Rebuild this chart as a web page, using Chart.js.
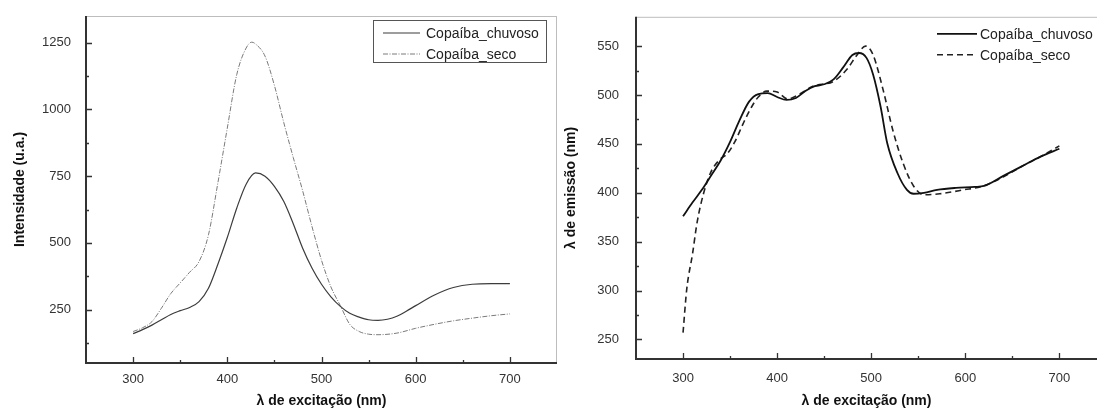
<!DOCTYPE html>
<html>
<head>
<meta charset="utf-8">
<script src="https://cdn.jsdelivr.net/npm/chart.js@4.4.0/dist/chart.umd.min.js"></script>
<style>
  html, body { margin:0; padding:0; background:#fff; width:1097px; height:414px; overflow:hidden; }
  #chartExc { position:absolute; left:0; top:0; }
  #chartEm  { position:absolute; left:560px; top:0; }
</style>
</head>
<body>
<canvas id="chartExc" width="560" height="414"></canvas>
<canvas id="chartEm" width="537" height="414"></canvas>
<script>
// ---- data: left panel (intensity vs excitation wavelength) ----
const excChuvosoX = [300,310,320,330,340,350,360,370,380,390,400,410,420,430,440,450,460,470,480,490,500,510,520,530,540,550,560,570,580,590,600,620,640,660,680,700];
const excChuvosoY = [160,175,192,212,232,246,258,280,330,420,520,630,720,762,750,712,655,572,480,405,345,298,262,236,222,212,210,214,225,244,265,305,333,345,347,347];
const excSecoX = [300,310,320,330,340,350,360,370,380,390,400,410,420,426,430,440,450,460,470,480,490,500,510,520,530,540,550,560,580,600,620,640,660,680,700];
const excSecoY = [168,182,205,255,310,350,390,430,530,725,930,1130,1230,1252,1245,1200,1090,950,820,695,560,435,335,265,195,168,158,156,162,180,195,208,218,227,234];

// ---- data: right panel (emission wavelength vs excitation wavelength) ----
const emChuvosoX = [300,310,320,330,340,350,360,370,380,390,400,410,420,430,440,450,460,470,480,487,495,502,510,517,528,538,545,556,570,590,610,620,640,660,680,700];
const emChuvosoY = [376,390,403,418,433,452,474,493,501,502,498,495,497,504,509,511,516,528,541,543,538,521,488,451,420,403,399,400,403,405,406,407,417,427,437,445];
const emSecoX = [300,304,310,315,322,329,338,347,355,364,373,380,389,400,411,424,438,460,474,485,494,502,513,523,534,545,556,573,598,619,640,660,680,700];
const emSecoY = [257,302,337,370,400,420,433,440,452,471,488,498,504,503,496,501,509,514,526,541,550,541,504,464,430,407,398,399,403,407,416,427,437,448];

// ---- tick values ----
const xLabelTicks = [300,400,500,600,700];
const xMinorTicks = [350,450,550,650];
const excYTicks = [250,500,750,1000,1250];
const excYMinor = [125,375,625,875,1125];
const emYTicks = [250,300,350,400,450,500,550];
const emYMinor = [275,325,375,425,475,525];

const seriesNames = ['Copaíba_chuvoso','Copaíba_seco'];

const FONT = '"Liberation Sans", Arial, sans-serif';
const pts = (xs, ys) => xs.map((x, i) => ({x, y: ys[i]}));

// inward ticks + axis frame, drawn from the chart's own scales
const framePlugin = {
  id: 'frame',
  afterDraw(chart, args, o) {
    const {ctx, chartArea: a, scales: {x, y}} = chart;
    ctx.save();
    ctx.strokeStyle = '#bdbdbd'; ctx.lineWidth = 1;
    ctx.beginPath();
    ctx.moveTo(a.left, a.top + 0.5); ctx.lineTo(a.right, a.top + 0.5);
    if (o.rightBorder) { ctx.moveTo(a.right - 0.5, a.top); ctx.lineTo(a.right - 0.5, a.bottom); }
    ctx.stroke();

    ctx.strokeStyle = '#333'; ctx.lineWidth = 1.3;
    ctx.beginPath();
    const tx = (v, len) => { const p = Math.round(x.getPixelForValue(v)) + 0.5; ctx.moveTo(p, a.bottom); ctx.lineTo(p, a.bottom - len); };
    const ty = (v, len) => { const p = Math.round(y.getPixelForValue(v)) + 0.5; ctx.moveTo(a.left, p); ctx.lineTo(a.left + len, p); };
    o.majorX.forEach(v => tx(v, 6));
    o.minorX.forEach(v => tx(v, 3));
    o.majorY.forEach(v => ty(v, 6));
    o.minorY.forEach(v => ty(v, 3));
    ctx.stroke();

    ctx.lineWidth = 2;
    ctx.beginPath();
    ctx.moveTo(a.left, a.top); ctx.lineTo(a.left, a.bottom); ctx.lineTo(a.right, a.bottom);
    ctx.stroke();
    ctx.restore();
  }
};

const legendPlugin = {
  id: 'boxLegend',
  afterDraw(chart, args, o) {
    const {ctx, chartArea: a} = chart;
    ctx.save();
    const left = a.right - o.fromRight;
    if (o.box) {
      ctx.strokeStyle = '#555'; ctx.lineWidth = 1;
      ctx.strokeRect(left + 0.5, a.top + o.boxTop + 0.5, o.boxW, o.boxH);
    }
    chart.data.datasets.forEach((ds, i) => {
      const yy = a.top + o.firstRow + i * o.rowH;
      ctx.strokeStyle = ds.borderColor; ctx.lineWidth = ds.borderWidth;
      ctx.setLineDash(ds.borderDash || []);
      ctx.beginPath(); ctx.moveTo(left + o.lineStart, yy); ctx.lineTo(left + o.lineStart + o.lineLen, yy); ctx.stroke();
      ctx.setLineDash([]);
      ctx.fillStyle = '#222'; ctx.font = '14px ' + FONT; ctx.textBaseline = 'middle';
      ctx.fillText(ds.label, left + o.lineStart + o.lineLen + o.textGap, yy + 1);
    });
    ctx.restore();
  }
};

function makeChart(id, cfg) {
  return new Chart(document.getElementById(id), {
    type: 'line',
    data: { datasets: cfg.datasets },
    options: {
      responsive: false, animation: false, devicePixelRatio: 1,
      layout: { padding: { top: cfg.top, right: cfg.right, bottom: 0, left: 0 } },
      elements: { point: { radius: 0 }, line: { cubicInterpolationMode: 'monotone' } },
      plugins: {
        legend: { display: false }, tooltip: { enabled: false },
        frame: { majorX: xLabelTicks, minorX: xMinorTicks, majorY: cfg.yTicks, minorY: cfg.yMinor, rightBorder: cfg.rightBorder },
        boxLegend: cfg.legend
      },
      scales: {
        x: {
          type: 'linear', min: cfg.xMin, max: cfg.xMax,
          afterBuildTicks: s => { s.ticks = xLabelTicks.map(v => ({value: v})); },
          afterFit: s => { s.height = cfg.xAxisH; },
          grid: { display: false }, border: { display: false },
          ticks: { font: { family: FONT, size: 13 }, color: '#333', padding: cfg.xPad, maxRotation: 0, autoSkip: false, callback: v => String(v) },
          title: { display: true, text: 'λ de excitação (nm)', color: '#111', font: { family: FONT, size: 14, weight: 'bold' }, padding: { top: 0, bottom: 4 } }
        },
        y: {
          type: 'linear', min: cfg.yMin, max: cfg.yMax,
          afterBuildTicks: s => { s.ticks = cfg.yTicks.map(v => ({value: v})); },
          afterFit: s => { s.width = cfg.yAxisW; },
          grid: { display: false }, border: { display: false },
          ticks: { font: { family: FONT, size: 13 }, color: '#333', padding: cfg.yPad, autoSkip: false, callback: v => String(v) },
          title: { display: true, text: cfg.yTitle, color: '#111', font: { family: FONT, size: 14, weight: 'bold' }, padding: { top: cfg.yTitlePad, bottom: 0 } }
        }
      }
    },
    plugins: [framePlugin, legendPlugin]
  });
}

makeChart('chartExc', {
  datasets: [
    { label: seriesNames[0], data: pts(excChuvosoX, excChuvosoY), borderColor: '#3c3c3c', borderWidth: 1.2, fill: false },
    { label: seriesNames[1], data: pts(excSecoX, excSecoY), borderColor: '#7a7a7a', borderWidth: 1, borderDash: [5, 1.5, 1, 1.5], fill: false }
  ],
  top: 16, right: 3, xAxisH: 51, yAxisW: 86, xPad: 1, yPad: 7, yTitlePad: 12,
  xMin: 250, xMax: 750, yMin: 50, yMax: 1350,
  yTicks: excYTicks, yMinor: excYMinor, rightBorder: true,
  yTitle: 'Intensidade (u.a.)',
  legend: { box: true, fromRight: 184, boxTop: 4, boxW: 173, boxH: 42, firstRow: 17, rowH: 21, lineStart: 10, lineLen: 37, textGap: 6 }
});

makeChart('chartEm', {
  datasets: [
    { label: seriesNames[0], data: pts(emChuvosoX, emChuvosoY), borderColor: '#111', borderWidth: 1.8, fill: false },
    { label: seriesNames[1], data: pts(emSecoX, emSecoY), borderColor: '#222', borderWidth: 1.6, borderDash: [6, 4], fill: false }
  ],
  top: 12, right: 0, xAxisH: 55, yAxisW: 76, xPad: 4, yPad: 9, yTitlePad: 3,
  xMin: 250, xMax: 740, yMin: 230, yMax: 580,
  yTicks: emYTicks, yMinor: emYMinor, rightBorder: false,
  yTitle: 'λ de emissão (nm)',
  legend: { box: false, fromRight: 160, boxTop: 0, boxW: 0, boxH: 0, firstRow: 17, rowH: 21, lineStart: 0, lineLen: 40, textGap: 3 }
});
</script>
</body>
</html>
